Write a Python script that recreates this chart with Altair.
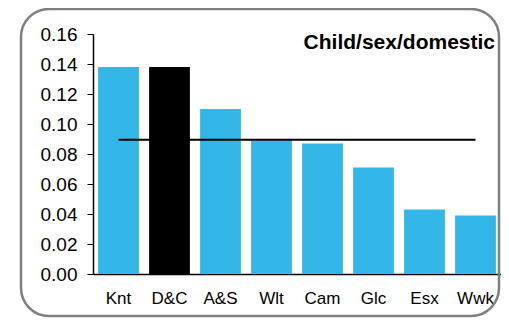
import altair as alt
import pandas as pd

categories = ["Knt", "D&C", "A&S", "Wlt", "Cam", "Glc", "Esx", "Wwk"]
values = [0.138, 0.138, 0.110, 0.089, 0.087, 0.071, 0.043, 0.039]
highlight = ["no", "yes", "no", "no", "no", "no", "no", "no"]
average = [0.0895] * len(categories)
title_text = ["Child/sex/domestic"]
y_ticks = [0.0, 0.02, 0.04, 0.06, 0.08, 0.10, 0.12, 0.14, 0.16]

df = pd.DataFrame({"cat": categories, "val": values, "hl": highlight, "avg": average})

FONT = "Liberation Sans"
W, H = 408, 240

x_axis = alt.Axis(title=None, labelAngle=0, ticks=False, labelPadding=16,
                  labelFontSize=17, labelFont=FONT, labelColor="#000000",
                  domainColor="#000000", domainWidth=1.5)
y_axis = alt.Axis(title=None, values=y_ticks, format=".2f", grid=False,
                  labelOverlap=False, labelBound=False, labelFlush=False,
                  tickSize=6, tickColor="#000000", labelPadding=10,
                  labelFontSize=19, labelFont=FONT, labelColor="#000000",
                  domainColor="#000000", domainWidth=1.5)
x_scale = alt.Scale(paddingInner=0.2, paddingOuter=0.1)
y_scale = alt.Scale(domain=[0, 0.16], nice=False)

bars = alt.Chart(df).mark_bar().encode(
    x=alt.X("cat:N", sort=categories, scale=x_scale, axis=x_axis),
    y=alt.Y("val:Q", scale=y_scale, axis=y_axis),
    color=alt.Color("hl:N", scale=alt.Scale(domain=["no", "yes"], range=["#33B7E8", "#000000"]),
                    legend=None),
)

line = alt.Chart(df).mark_line(color="#000000", strokeWidth=2).encode(
    x=alt.X("cat:N", sort=categories, scale=x_scale, axis=x_axis),
    y=alt.Y("avg:Q", scale=y_scale, axis=y_axis),
)

title = alt.Chart(pd.DataFrame({"t": title_text})).mark_text(
    align="right", baseline="alphabetic", font=FONT, fontSize=21, fontWeight="bold",
    color="#000000"
).encode(text="t:N", x=alt.value(402), y=alt.value(15))

border = alt.Chart(pd.DataFrame({"a": [0]})).mark_rect(
    fill=None, stroke="#7F7F7F", strokeWidth=2.5, cornerRadius=28
).encode(x=alt.value(-72), x2=alt.value(406), y=alt.value(-25), y2=alt.value(282))

chart = alt.layer(bars, line, title, border).properties(
    width=W, height=H,
    padding={"left": 85, "top": 26, "right": 0, "bottom": 44},
    autosize=alt.AutoSizeParams(type="none"),
).configure_view(stroke=None)

chart.save("out.html", embed_options={"renderer": "svg", "actions": False})
